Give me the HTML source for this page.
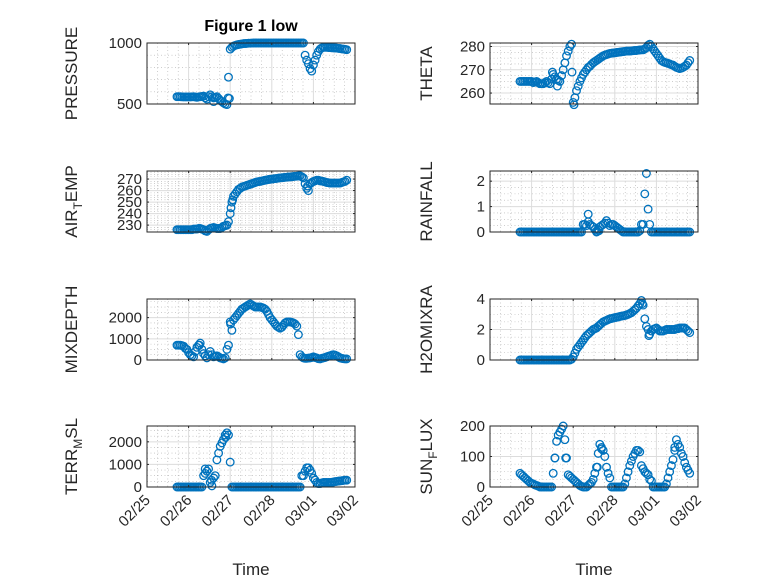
<!DOCTYPE html>
<html><head><meta charset="utf-8"><style>
body{margin:0;background:#fff;}
svg{display:block;font-family:"Liberation Sans",sans-serif;}
</style></head><body>
<svg id="fig" width="778" height="583" viewBox="0 0 778 583" xmlns="http://www.w3.org/2000/svg">
<rect width="778" height="583" fill="#fff"/>
<text x="251" y="31" text-anchor="middle" font-size="16" font-weight="bold" fill="#000">Figure 1 low</text>
</svg>
<script>
const dayLabels = ["02/25","02/26","02/27","02/28","03/01","03/02"];
const tStart = 0.72, tStep = 0.04;
const pressure = [560,560,560,559,558,558,558,558,558,559, 560,557,555,558,560,562,565,550,540,560, 575,560,550,555,560,545,530,520,510,500, 495,720,950,965,975,980,985,988,990,993, 995,996,997,998,998,999,1000,1000,1000,1000, 1000,1000,1000,1000,1000,1000,1000,1000,1000,1000, 1000,1000,1000,1000,1000,1000,1000,1000,1000,1000, 1000,1000,1000,1000,1000,1000,1000,900,860,830, 790,770,820,860,900,930,950,960,965,965, 965,963,962,961,960,959,958,956,955,952, 950,948,945];
const pressureExtraT = [1.95,1.60,1.98];
const pressureExtraV = [550,520,545];
const theta = [265,265,265,265,265,265,265,265,264.5,264.8, 265,264.5,264,264,264,264.5,265,264.5,264,266, 268,267,266,265.5,265,267.5,270,273,276,278, 280,281,256,258,261,263,265,266.5,268,269, 270,271,271.5,272.3,273,273.5,274,274.5,275,275.5, 276,276.3,276.5,276.8,277,277.1,277.2,277.3,277.4,277.5, 277.6,277.7,277.8,277.9,278,278,278,278.1,278.2,278.3, 278.3,278.4,278.5,278.6,278.6,279,279.5,280.5,281,280, 279,278,277,276,275,274,273.5,273.2,273,272.8, 272.5,272.2,272,271.5,271,270.8,270.5,270.7,271,271.5, 272,273,274];
const thetaExtraT = [1.50,1.62,1.97,2.02];
const thetaExtraV = [269,263,269,255];
const airTemp = [226,226,226,226,226,226,226,226,226,226, 226.5,226.5,226.5,227,227,226.5,226,225,224.5,226, 227,227.5,228,227.5,227,227,227,228,229,229.5, 230,233,240,250,255,257,259,261,262,263, 263.5,264,264.5,265,265.5,266,266.5,267,267.5,267.8, 268,268.4,268.7,269,269.3,269.6,269.8,270,270.2,270.4, 270.6,270.8,271,271.2,271.3,271.5,271.6,271.8,271.9,272, 272.2,272.4,272.5,272.7,272.8,272,271,266,262,260, 266,267,268,268.5,269,269,268.5,268.2,268,267.5, 267,266.8,266.5,266.5,266.5,266.5,266.5,266.5,266.5,267, 267.5,268,269];
const airTempExtraT = [2.02,2.06,3.86];
const airTempExtraV = [245,252,264];
const rainfall = [0,0,0,0,0,0,0,0,0,0, 0,0,0,0,0,0,0,0,0,0, 0,0,0,0,0,0,0,0,0,0, 0,0,0,0,0,0,0,0,0.3,0.3, 0.25,0.7,0.3,0.25,0.2,0.1,0,0.1,0.2,0.25, 0.3,0.35,0.45,0.35,0.25,0.3,0.3,0.25,0.2,0.15, 0.1,0.05,0,0,0,0,0,0,0,0, 0,0,0.05,0.3,0.3,1.5,2.3,0.9,0.3,0, 0,0,0,0,0,0,0,0,0,0, 0,0,0,0,0,0,0,0,0,0, 0,0,0];
const rainfallExtraT = [2.36,2.58,2.62];
const rainfallExtraV = [0.4,0.02,0.05];
const mixDepth = [700,700,700,680,650,550,500,350,250,200, 150,400,600,700,800,500,300,200,100,250, 400,250,150,180,200,150,100,80,50,100, 500,700,1800,1400,1900,2000,2100,2200,2300,2400, 2450,2500,2550,2600,2650,2600,2550,2500,2500,2500, 2500,2480,2450,2400,2300,2150,2000,1900,1800,1700, 1600,1550,1500,1550,1650,1750,1800,1800,1800,1780, 1750,1700,1600,1200,250,150,100,80,80,90, 100,120,150,120,100,60,50,80,100,120, 150,180,200,230,250,230,200,150,100,80, 60,50,50];
const mixDepthExtraT = [1.26,2.01];
const mixDepthExtraV = [700,1700];
const h2oMix = [0,0,0,0,0,0,0,0,0,0, 0,0,0,0,0,0,0,0,0,0, 0,0,0,0,0,0,0,0,0,0, 0,0.05,0.2,0.45,0.7,0.85,1.0,1.15,1.3,1.45, 1.6,1.7,1.8,1.9,2.0,2.05,2.1,2.2,2.3,2.4, 2.5,2.55,2.6,2.65,2.7,2.72,2.75,2.78,2.8,2.82, 2.85,2.88,2.9,2.92,2.95,3.0,3.05,3.1,3.2,3.3, 3.4,3.55,3.7,3.9,3.6,2.7,2.2,2.0,1.7,1.9, 2.0,2.05,2.1,2.0,1.9,1.9,1.9,1.95,2.0,2.0, 2.0,2.0,2.0,2.0,2.05,2.05,2.1,2.1,2.1,2.1, 2.0,1.9,1.8];
const h2oMixExtraT = [3.66,3.82];
const h2oMixExtraV = [3.7,1.6];
const terrMsl = [0,0,0,0,0,0,0,0,0,0, 0,0,0,0,0,0,500,600,700,800, 200,50,400,500,1200,1500,1800,1950,2100,2300, 2400,2300,1100,0,0,0,0,0,0,0, 0,0,0,0,0,0,0,0,0,0, 0,0,0,0,0,0,0,0,0,0, 0,0,0,0,0,0,0,0,0,0, 0,0,0,0,0,500,500,700,850,850, 750,600,400,300,200,150,150,180,200,200, 200,200,200,210,220,240,250,260,270,280, 290,300,300];
const terrMslExtraT = [1.40,1.89,1.55];
const terrMslExtraV = [800,2200,300];
const sunFlux = [45,40,35,30,25,20,15,12,10,7, 5,3,0,0,0,0,0,0,0,0, 45,95,150,170,180,190,200,155,95,40, 35,30,25,20,15,10,5,2,0,0, 0,5,10,15,25,45,65,110,140,130, 120,100,65,45,30,0,0,0,0,0, 0,0,0,10,30,50,70,85,100,110, 120,120,115,70,60,50,45,40,25,20, 0,0,0,0,0,0,0,0,10,30, 50,70,90,120,155,140,130,110,100,80, 65,55,45];
const sunFluxExtraT = [1.56,1.82,2.58,2.68,4.44];
const sunFluxExtraV = [95,95,65,125,130];

const NS = "http://www.w3.org/2000/svg";
const svg = document.getElementById('fig');
function mk(tag, attrs, parent){const e=document.createElementNS(NS,tag);for(const k in attrs)e.setAttribute(k,attrs[k]);(parent||svg).appendChild(e);return e;}

const colX = [147, 490], colW = 208;
const rowY = [43, 171, 299, 426], rowH = 61;
const panels = [
 {key:'pressure',col:0,row:0,min:500,max:1000,ticks:[500,1000],minor:100,label:['PRESSURE'],v:pressure,et:pressureExtraT,ev:pressureExtraV},
 {key:'theta',col:1,row:0,min:255.3,max:281.5,ticks:[260,270,280],minor:2.5,label:['THETA'],v:theta,et:thetaExtraT,ev:thetaExtraV},
 {key:'air-temp',col:0,row:1,min:224,max:277,ticks:[230,240,250,260,270],minor:2,label:['AIR','T','EMP'],v:airTemp,et:airTempExtraT,ev:airTempExtraV},
 {key:'rainfall',col:1,row:1,min:0,max:2.4,ticks:[0,1,2],minor:0.25,label:['RAINFALL'],v:rainfall,et:rainfallExtraT,ev:rainfallExtraV},
 {key:'mixdepth',col:0,row:2,min:0,max:2880,ticks:[0,1000,2000],minor:250,label:['MIXDEPTH'],v:mixDepth,et:mixDepthExtraT,ev:mixDepthExtraV},
 {key:'h2omixra',col:1,row:2,min:0,max:4,ticks:[0,2,4],minor:0.5,label:['H2OMIXRA'],v:h2oMix,et:h2oMixExtraT,ev:h2oMixExtraV},
 {key:'terr-msl',col:0,row:3,min:0,max:2700,ticks:[0,1000,2000],minor:250,label:['TERR','M','SL'],v:terrMsl,et:terrMslExtraT,ev:terrMslExtraV},
 {key:'sun-flux',col:1,row:3,min:0,max:200,ticks:[0,100,200],minor:25,label:['SUN','F','LUX'],v:sunFlux,et:sunFluxExtraT,ev:sunFluxExtraV}
];

panels.forEach(p=>{
  const x0=colX[p.col], y0=rowY[p.row], w=colW, h=rowH;
  const xs=t=>x0+t/5*w;
  const ys=v=>y0+h-(v-p.min)/(p.max-p.min)*h;
  const g=mk('g',{});
  
  
  mk('rect',{x:x0,y:y0,width:w,height:h,fill:'#fff'},g);
  for(let t=0.25;t<5;t+=0.25){ if(Math.abs(t-Math.round(t))<1e-6) continue;
    mk('line',{x1:xs(t),x2:xs(t),y1:y0,y2:y0+h,stroke:'#b0b0b0','stroke-width':0.6,'stroke-dasharray':'1 2.5'},g);}
  for(let v=Math.ceil(p.min/p.minor)*p.minor; v<p.max; v+=p.minor){
    if(p.ticks.some(tk=>Math.abs(tk-v)<1e-6)) continue;
    mk('line',{x1:x0,x2:x0+w,y1:ys(v),y2:ys(v),stroke:'#b0b0b0','stroke-width':0.6,'stroke-dasharray':'1 2.5'},g);}
  for(let d=1;d<5;d++) mk('line',{x1:xs(d),x2:xs(d),y1:y0,y2:y0+h,stroke:'#dcdcdc','stroke-width':1},g);
  p.ticks.forEach(tk=>{ mk('line',{x1:x0,x2:x0+w,y1:ys(tk),y2:ys(tk),stroke:'#dcdcdc','stroke-width':1},g);});
  const pts=[];
  for(let i=0;i<p.v.length;i++) pts.push([tStart+i*tStep,p.v[i]]);
  p.et.forEach((t,i)=>pts.push([t,p.ev[i]]));
  pts.forEach(pt=>{
    const c=mk('circle',{cx:xs(pt[0]).toFixed(1),cy:ys(pt[1]).toFixed(1),r:3.8,fill:'none',stroke:'#0072BD','stroke-width':1.3},g);
    
    
  });
  mk('rect',{x:x0,y:y0,width:w,height:h,fill:'none',stroke:'#262626','stroke-width':1},g);
  for(let d=0;d<=5;d++){ mk('line',{x1:xs(d),x2:xs(d),y1:y0+h,y2:y0+h-2,stroke:'#262626'},g); mk('line',{x1:xs(d),x2:xs(d),y1:y0,y2:y0+2,stroke:'#262626'},g);}
  p.ticks.forEach(tk=>{
    mk('line',{x1:x0,x2:x0+2,y1:ys(tk),y2:ys(tk),stroke:'#262626'},g);
    mk('line',{x1:x0+w,x2:x0+w-2,y1:ys(tk),y2:ys(tk),stroke:'#262626'},g);
    const tx=mk('text',{x:x0-5,y:ys(tk)+5,'text-anchor':'end','font-size':15,fill:'#262626'},g);
    tx.textContent=tk;
    
    
  });
  const lx = p.col===0 ? x0-70 : x0-58;
  const ly = y0+h/2;
  const lab=mk('text',{x:lx,y:ly,'text-anchor':'middle','font-size':17,fill:'#262626',transform:`rotate(-90 ${lx} ${ly})`},g);
  
  
  if(p.label.length===1){ lab.textContent=p.label[0]; }
  else {
    const a=mk('tspan',{},lab); a.textContent=p.label[0];
    const b=mk('tspan',{dy:5,'font-size':12},lab); b.textContent=p.label[1];
    const c=mk('tspan',{dy:-5},lab); c.textContent=p.label[2];
  }
  if(p.row===3){
    dayLabels.forEach((d,i)=>{
      const tx=xs(i)+4, ty=y0+h+14;
      const t=mk('text',{x:tx,y:ty,'text-anchor':'end','font-size':15,fill:'#262626',transform:`rotate(-45 ${tx} ${ty})`},g);
      t.textContent=d;
      
      
    });
    const xl=mk('text',{x:x0+w/2,y:575,'text-anchor':'middle','font-size':17,fill:'#262626'},g);
    xl.textContent='Time';
    
    
  }
});
</script>
</body></html>
